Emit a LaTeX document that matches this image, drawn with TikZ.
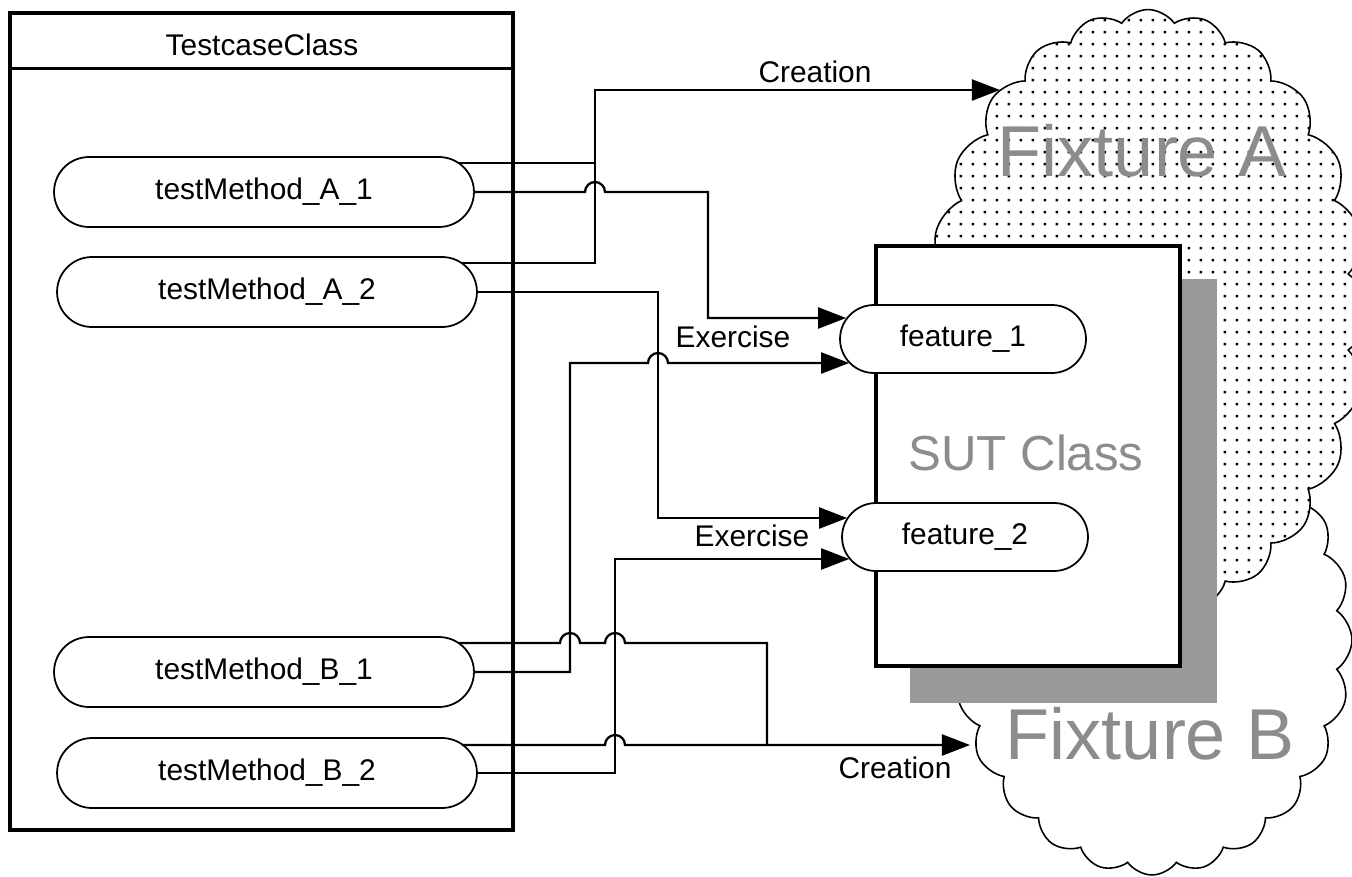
\documentclass[tikz,border=0pt]{standalone}
\usepackage{fontspec}
\setmainfont{Liberation Sans}
\usetikzlibrary{shapes.misc,shapes.symbols,arrows.meta,calc,patterns.meta}
\definecolor{shadowgray}{RGB}{153,153,153}
\definecolor{labelgray}{RGB}{140,140,140}
\tikzdeclarepattern{name=sparsedots, type=uncolored,
  bottom left={(0pt,0pt)}, top right={(6.8pt,6.8pt)}, tile size={(6.8pt,6.8pt)},
  code={\pgfpathrectangle{\pgfpoint{2.6pt}{2.6pt}}{\pgfpoint{1.5pt}{1.5pt}}\pgfusepath{fill}}}
\newcommand\hop[2]{-- ({#1-10},#2) arc[start angle=180,end angle=360,radius=10]}
\begin{document}
\begin{tikzpicture}[x=0.02cm,y=-0.02cm,
  lbl/.style={font=\fontsize{17}{20}\selectfont, inner sep=0pt},
  pill/.style={rounded rectangle, draw, line width=1pt, fill=white, minimum width=8.4cm, minimum height=1.4cm, inner sep=0pt, font=\fontsize{17}{20}\selectfont},
  fpill/.style={pill, minimum width=4.92cm, minimum height=1.36cm},
  conn/.style={line width=1.3pt},
  arr/.style={conn, -{Triangle[length=16pt,width=12pt]}},
  big/.style={text=labelgray, font=\fontsize{41}{48}\selectfont, inner sep=0pt},
  fixcloud/.style={cloud, draw, line width=0.9pt, cloud puffs=24, cloud puff arc=110, cloud ignores aspect, inner sep=0pt},
  classbox/.style={draw, line width=2pt, fill=white, inner sep=0pt}
]
\useasboundingbox (0,0) rectangle (1352,876);
\begin{scope}
\clip (0,0) rectangle (1352,876);
% clouds
\node[fixcloud, fill=white, minimum width=8cm, minimum height=9.4cm] (fb) at (1152,640) {};
\node[fixcloud, preaction={fill=white}, pattern=sparsedots, minimum width=8.8cm, minimum height=12.1cm] (fa) at (1148,312) {};
\end{scope}
\node[big] (fat) at (1142,151) {Fixture A};
\node[big] (fbt) at (1150,734) {Fixture B};
% SUT class
\fill[shadowgray] (910,279) rectangle (1217,703);
\node[classbox, minimum width=6.08cm, minimum height=8.4cm] (sut) at (1028,456) {};
\node[text=labelgray, font=\fontsize{28}{32}\selectfont, inner sep=0pt] (sutt) at (1026,453) {SUT Class};
\node[fpill] (f1) at (963,339) {feature\_1};
\node[fpill] (f2) at (965,537) {feature\_2};
% Testcase class
\node[classbox, minimum width=10.06cm, minimum height=16.34cm] (tc) at (261.5,421.5) {};
\draw[line width=1.5pt] ($(tc.north west)+(0,57)$) -- ($(tc.north east)+(0,57)$);
\node[lbl] (tct) at (262,45) {TestcaseClass};
\node[pill] (m1) at (264,192) {testMethod\_A\_1};
\node[pill] (m2) at (267,292) {testMethod\_A\_2};
\node[pill] (m3) at (264,672) {testMethod\_B\_1};
\node[pill] (m4) at (267,773) {testMethod\_B\_2};
% free ends on the clouds
\coordinate (faIn) at (1000,90);
\coordinate (fbIn) at (970,745);
% connectors
\draw[arr] ($(m1.east)+(-16,-29)$) -- (595,163) -- (595,90) -- (faIn);
\draw[conn] ($(m2.east)+(-16,-29)$) -- (595,263) -- (595,163);
\draw[arr] (m1.east) \hop{595}{192} -- (708,192) -- (708,318) -- ($(f1.west)+(7,-21)$);
\draw[arr] (m2.east) -- (658,292) -- (658,518) -- ($(f2.west)+(6,-19)$);
\draw[arr] (m3.east) -- (570,672) -- (570,363) \hop{658}{363} -- ($(f1.west)+(10,24)$);
\draw[arr] (m4.east) -- (615,773) -- (615,559) -- ($(f2.west)+(8,22)$);
\draw[conn] ($(m3.east)+(-16,-29)$) \hop{570}{643} \hop{615}{643} -- (767,643) -- (767,745);
\draw[arr] ($(m4.east)+(-16,-28)$) \hop{615}{745} -- (fbIn);
% labels
\node[lbl] (cr1) at (815,72) {Creation};
\node[lbl] (ex1) at (733,337) {Exercise};
\node[lbl] (ex2) at (752,536) {Exercise};
\node[lbl] (cr2) at (895,768) {Creation};
\end{tikzpicture}
\end{document}
